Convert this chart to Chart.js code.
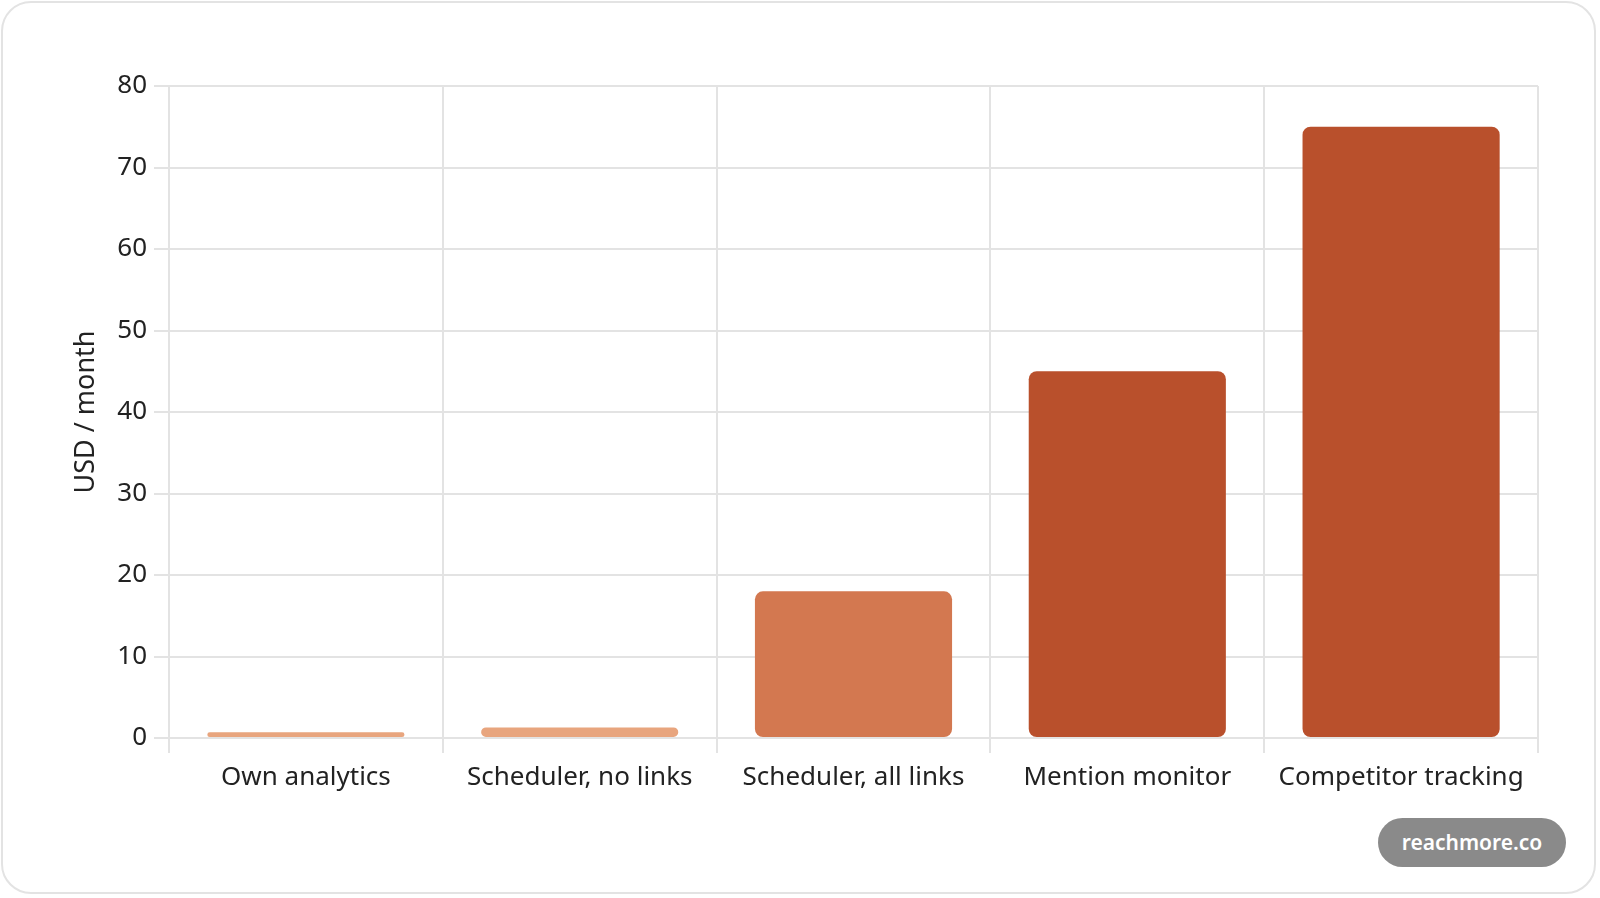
<!DOCTYPE html>
<html>
<head>
<meta charset="utf-8">
<script src="https://cdn.jsdelivr.net/npm/chart.js@4.4.1/dist/chart.umd.min.js"></script>
<style>
  html, body { margin: 0; padding: 0; background: #ffffff; }
  body { width: 1600px; height: 898px; position: relative; overflow: hidden; font-family: "Noto Sans", sans-serif; }
  .card { position: absolute; left: 1px; top: 1px; width: 1595px; height: 893px; border: 2px solid #e3e3e3; border-radius: 30px; background: #fff; box-sizing: border-box; }
  #wrap { position: absolute; left: 0; top: 0; width: 1600px; height: 898px; }
  .badge { position: absolute; left: 1378px; top: 818px; width: 188px; height: 49px; border-radius: 25px; background: #8a8a8a; color: #fff; font-weight: 600; font-size: 21px; line-height: 49px; text-align: center; font-family: "Noto Sans", sans-serif; }
</style>
</head>
<body>
<div class="card"></div>
<div id="wrap"><canvas id="c"></canvas></div>
<div class="badge">reachmore.co</div>
<script>
const categories = ["Own analytics", "Scheduler, no links", "Scheduler, all links", "Mention monitor", "Competitor tracking"];
const costs = [0.7, 1.3, 18, 45, 75];
const barColors = ["#E8A57E", "#E8A57E", "#D37850", "#B9502C", "#B9502C"];
const yTicks = [0, 10, 20, 30, 40, 50, 60, 70, 80];
const yTitle = "USD / month";

const FONT = "'Noto Sans', sans-serif";
new Chart(document.getElementById('c'), {
  type: 'bar',
  data: {
    labels: categories,
    datasets: [{
      data: costs,
      backgroundColor: barColors,
      borderRadius: 8,
      borderSkipped: false,
      categoryPercentage: 0.8,
      barPercentage: 0.9
    }]
  },
  options: {
    responsive: true,
    maintainAspectRatio: false,
    animation: false,
    devicePixelRatio: 1,
    layout: { padding: { left: 0, right: 62, top: 86, bottom: 100 } },
    plugins: { legend: { display: false }, tooltip: { enabled: false } },
    scales: {
      x: {
        grid: { color: '#e3e3e3', lineWidth: 2, tickLength: 15, drawOnChartArea: true },
        border: { color: '#e3e3e3', width: 2 },
        ticks: { color: '#222', font: { family: FONT, size: 26 }, padding: 9, maxRotation: 0 },
        afterFit: (s) => { s.height = 60; }
      },
      y: {
        min: 0, max: 80,
        afterBuildTicks: (s) => { s.ticks = yTicks.map(v => ({ value: v })); },
        grid: { color: '#e3e3e3', lineWidth: 2, tickLength: 15 },
        border: { color: '#e3e3e3', width: 2 },
        ticks: { color: '#222', font: { family: FONT, size: 26 }, padding: 7 },
        title: { display: true, text: yTitle, color: '#222', font: { family: FONT, size: 27 }, padding: { top: 70, bottom: 0 } },
        afterFit: (s) => { s.width = 169; }
      }
    }
  }
});
</script>
</body>
</html>
